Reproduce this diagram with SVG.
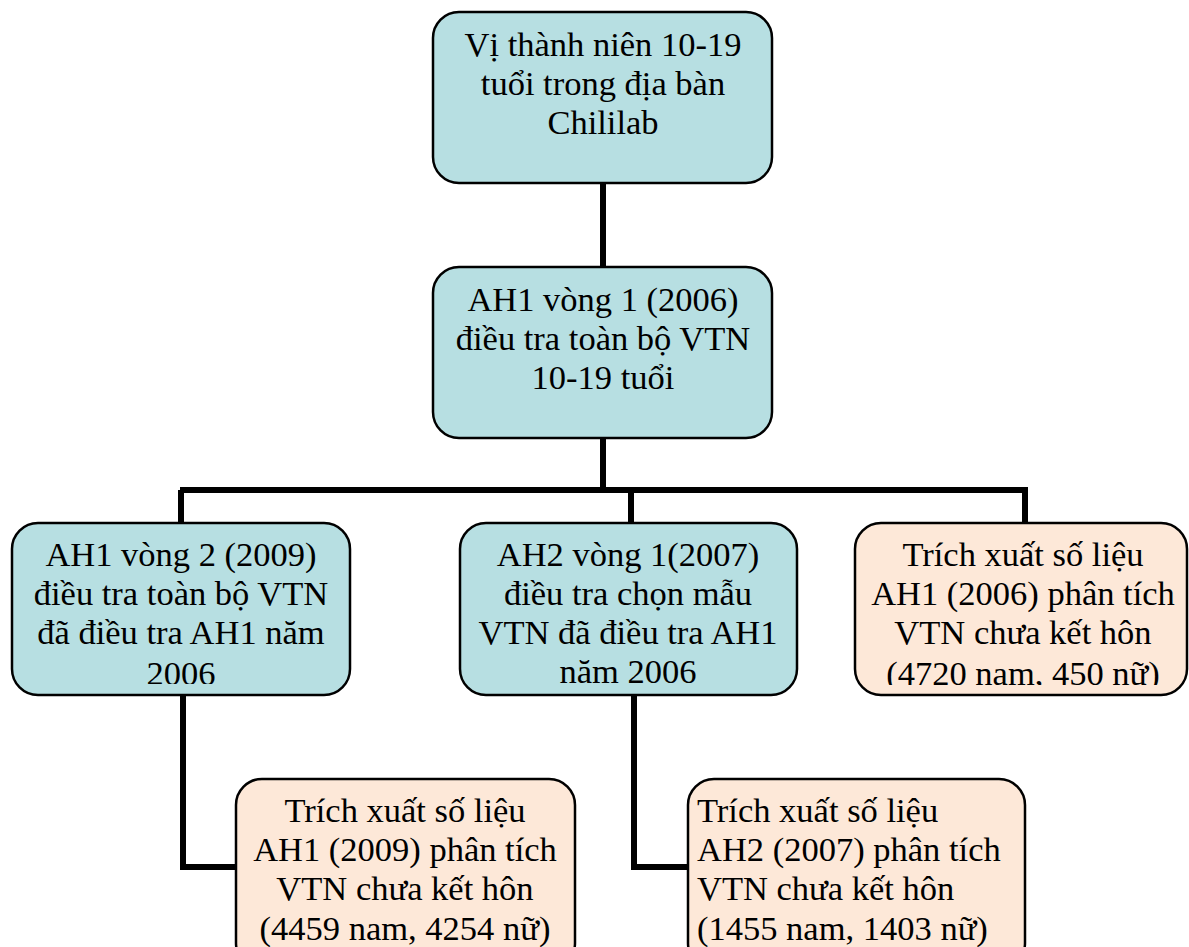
<svg xmlns="http://www.w3.org/2000/svg" width="1189" height="947" viewBox="0 0 1189 947">
<defs>
<style>
.blue{fill:#b7dfe2;stroke:#000;stroke-width:2.5}
.peach{fill:#fde8d8;stroke:#000;stroke-width:2.5}
text{font-family:"Liberation Serif","Times New Roman",serif;font-size:34.5px;fill:#000}
.c{text-anchor:middle}
.conn{fill:none;stroke:#000;stroke-width:6;stroke-linejoin:miter}
</style>
<clipPath id="clipL"><rect x="12" y="523" width="338" height="161"/></clipPath>
<clipPath id="clipR"><rect x="855" y="523" width="334" height="162"/></clipPath>
</defs>
<rect width="1189" height="947" fill="#fff"/>
<g id="connectors">
<path class="conn" d="M603 183V490"/>
<path class="conn" d="M180 490H1028"/>
<path class="conn" d="M181 490V523"/>
<path class="conn" d="M631 490V523"/>
<path class="conn" d="M1025 490V523"/>
<path class="conn" d="M183 695V867H236"/>
<path class="conn" d="M634 695V867H688"/>
</g>
<g id="n1">
<rect class="blue" x="433" y="12" width="339" height="171" rx="26"/>
<text class="c" x="603" y="56">Vị thành niên 10-19</text>
<text class="c" x="603" y="95">tuổi trong địa bàn</text>
<text class="c" x="603" y="134">Chililab</text>
</g>
<g id="n2">
<rect class="blue" x="433" y="267" width="339" height="171" rx="26"/>
<text class="c" x="603" y="311">AH1 vòng 1 (2006)</text>
<text class="c" x="603" y="350">điều tra toàn bộ VTN</text>
<text class="c" x="603" y="389">10-19 tuổi</text>
</g>
<g id="n3">
<rect class="blue" x="12" y="523" width="338" height="172" rx="26"/>
<g clip-path="url(#clipL)">
<text class="c" x="181" y="566">AH1 vòng 2 (2009)</text>
<text class="c" x="181" y="605">điều tra toàn bộ VTN</text>
<text class="c" x="181" y="644">đã điều tra AH1 năm</text>
<text class="c" x="181" y="685">2006</text>
</g>
</g>
<g id="n4">
<rect class="blue" x="460" y="523" width="337" height="172" rx="26"/>
<text class="c" x="628" y="566">AH2 vòng 1(2007)</text>
<text class="c" x="628" y="605">điều tra chọn mẫu</text>
<text class="c" x="628" y="644">VTN đã điều tra AH1</text>
<text class="c" x="628" y="683">năm 2006</text>
</g>
<g id="n5">
<rect class="peach" x="855" y="523" width="332" height="172" rx="26"/>
<g clip-path="url(#clipR)">
<text class="c" x="1023" y="566">Trích xuất số liệu</text>
<text class="c" x="1023" y="605">AH1 (2006) phân tích</text>
<text class="c" x="1023" y="644">VTN chưa kết hôn</text>
<text class="c" x="1023" y="685">(4720 nam, 450 nữ)</text>
</g>
</g>
<g id="n6">
<rect class="peach" x="236" y="779" width="339" height="190" rx="26"/>
<text class="c" x="405" y="822">Trích xuất số liệu</text>
<text class="c" x="405" y="861">AH1 (2009) phân tích</text>
<text class="c" x="405" y="900">VTN chưa kết hôn</text>
<text class="c" x="405" y="940">(4459 nam, 4254 nữ)</text>
</g>
<g id="n7">
<rect class="peach" x="688" y="779" width="337" height="190" rx="26"/>
<text x="697" y="822">Trích xuất số liệu</text>
<text x="697" y="861">AH2 (2007) phân tích</text>
<text x="697" y="900">VTN chưa kết hôn</text>
<text x="697" y="940">(1455 nam, 1403 nữ)</text>
</g>
</svg>
